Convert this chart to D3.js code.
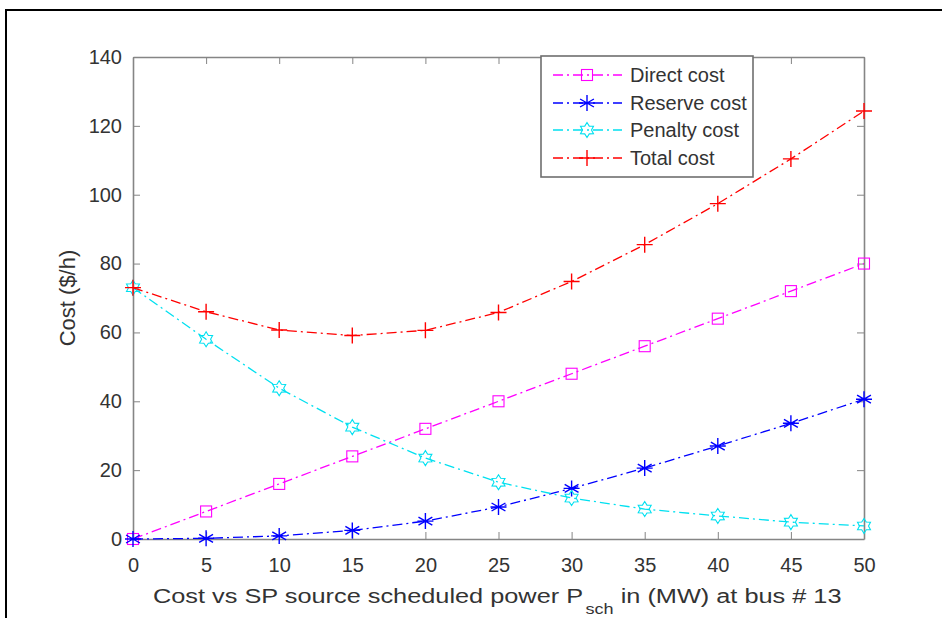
<!DOCTYPE html>
<html>
<head>
<meta charset="utf-8">
<script src="https://cdn.jsdelivr.net/npm/d3@7"></script>
<style>
  body { margin: 0; background: #fff; }
  svg { display: block; font-family: "Liberation Sans", Arial, Helvetica, sans-serif; }
</style>
</head>
<body>
<svg id="chart" width="942" height="618"></svg>
<script>
const power = [0, 5, 10, 15, 20, 25, 30, 35, 40, 45, 50];
const directCost = [0, 8, 16, 24, 32, 40, 48, 56, 64, 72, 80];
const reserveCost = [0, 0.2, 0.9, 2.5, 5.2, 9.3, 14.7, 20.6, 27.0, 33.6, 40.6];
const penaltyCost = [73, 58, 43.8, 32.5, 23.5, 16.5, 11.9, 8.7, 6.7, 4.9, 3.8];
const totalCost = [73, 66, 60.7, 59.1, 60.6, 65.8, 74.8, 85.5, 97.4, 110.4, 124.3];
const xTicks = [0, 5, 10, 15, 20, 25, 30, 35, 40, 45, 50];
const yTicks = [0, 20, 40, 60, 80, 100, 120, 140];
const seriesNames = ["Direct cost", "Reserve cost", "Penalty cost", "Total cost"];
const seriesColors = ["#ff00ff", "#0000ff", "#00e0f0", "#ff0000"];
const seriesMarkers = ["square", "asterisk", "hexagram", "plus"];
const seriesValues = [directCost, reserveCost, penaltyCost, totalCost];

const svg = d3.select("#chart");
const L = 133, R = 864, T = 57, B = 539;
const x = d3.scaleLinear().domain([0, 50]).range([L, R]);
const y = d3.scaleLinear().domain([0, 140]).range([B, T]);
const axisColor = "#858585";
const textColor = "#333";

// outer frame
svg.append("rect").attr("x", 6).attr("y", 10).attr("width", 980).attr("height", 700)
  .attr("fill", "none").attr("stroke", "#000").attr("stroke-width", 2);

// axes box with inward ticks
const tl = 7;
const gx = svg.append("g").attr("transform", `translate(0,${B})`)
  .call(d3.axisBottom(x).tickValues(xTicks).tickSizeInner(-tl).tickSizeOuter(0).tickPadding(19));
const gxt = svg.append("g").attr("transform", `translate(0,${T})`)
  .call(d3.axisTop(x).tickValues(xTicks).tickSizeInner(-tl).tickSizeOuter(0).tickFormat(""));
const gy = svg.append("g").attr("transform", `translate(${L},0)`)
  .call(d3.axisLeft(y).tickValues(yTicks).tickSizeInner(-tl).tickSizeOuter(0).tickPadding(11));
const gyr = svg.append("g").attr("transform", `translate(${R},0)`)
  .call(d3.axisRight(y).tickValues(yTicks).tickSizeInner(-tl).tickSizeOuter(0).tickFormat(""));
[gx, gxt, gy, gyr].forEach(g => {
  g.select(".domain").attr("stroke", axisColor).attr("stroke-width", 1.6);
  g.selectAll(".tick line").attr("stroke", axisColor).attr("stroke-width", 1);
  g.selectAll(".tick text").attr("fill", textColor).style("font-size", "20px");
});

// marker drawing
function marker(g, type, color, cx, cy) {
  const s = 5.5;
  if (type === "square") {
    g.append("rect").attr("x", cx - s).attr("y", cy - s).attr("width", 2 * s).attr("height", 2 * s)
      .attr("fill", "none").attr("stroke", color).attr("stroke-width", 1.1);
  } else if (type === "plus") {
    g.append("path").attr("d", `M${cx - 8},${cy}H${cx + 8}M${cx},${cy - 8}V${cy + 8}`)
      .attr("stroke", color).attr("stroke-width", 1.4).attr("fill", "none");
  } else if (type === "asterisk") {
    const r = 8; let d = `M${cx},${cy - r}V${cy + r}`;
    [30, 150].forEach(a => {
      const ra = a * Math.PI / 180;
      d += `M${cx - r * Math.cos(ra)},${cy - r * Math.sin(ra)}L${cx + r * Math.cos(ra)},${cy + r * Math.sin(ra)}`;
    });
    d += `M${cx - r},${cy}H${cx + r}`;
    g.append("path").attr("d", d).attr("stroke", color).attr("stroke-width", 1.4).attr("fill", "none");
  } else if (type === "hexagram") {
    const ro = 7.5, ri = 4.5; const pts = [];
    for (let i = 0; i < 12; i++) {
      const a = (i * 30 - 90) * Math.PI / 180;
      const r = i % 2 === 0 ? ro : ri;
      pts.push([cx + r * Math.cos(a), cy + r * Math.sin(a)]);
    }
    g.append("path").attr("d", "M" + pts.map(p => p.join(",")).join("L") + "Z")
      .attr("fill", "none").attr("stroke", color).attr("stroke-width", 1.1);
  }
}

const dash = "10,4,2,4";
const line = d3.line().x(d => x(d[0])).y(d => y(d[1]));
seriesValues.forEach((vals, i) => {
  const data = power.map((p, j) => [p, vals[j]]);
  const g = svg.append("g");
  g.append("path").datum(data).attr("d", line).attr("fill", "none")
    .attr("stroke", seriesColors[i]).attr("stroke-width", 1.3).attr("stroke-dasharray", dash);
  data.forEach(d => marker(g, seriesMarkers[i], seriesColors[i], x(d[0]), y(d[1])));
});

// legend
const lg = svg.append("g");
lg.append("rect").attr("x", 541).attr("y", 56).attr("width", 212).attr("height", 121)
  .attr("fill", "#fff").attr("stroke", "#6e6e6e").attr("stroke-width", 1.6);
const rowY = [75, 103, 130, 158];
seriesNames.forEach((n, i) => {
  const yy = rowY[i];
  lg.append("line").attr("x1", 553).attr("x2", 622).attr("y1", yy).attr("y2", yy)
    .attr("stroke", seriesColors[i]).attr("stroke-width", 1.3).attr("stroke-dasharray", dash);
  marker(lg, seriesMarkers[i], seriesColors[i], 587, yy);
  lg.append("text").attr("x", 630).attr("y", yy + 7).text(n)
    .attr("fill", textColor).style("font-size", "20px");
});

// axis labels
svg.append("text").attr("transform", `translate(75,${(T + B) / 2}) rotate(-90)`)
  .attr("text-anchor", "middle").attr("fill", textColor).style("font-size", "22px")
  .text("Cost ($/h)");

const xlg = svg.append("g");
const xl = xlg.append("text").attr("x", 0).attr("y", 0).attr("text-anchor", "start")
  .attr("fill", textColor).style("font-size", "21px");
xl.append("tspan").text("Cost vs SP source scheduled power P");
xl.append("tspan").attr("dx", 2).attr("dy", 11).style("font-size", "15px").text("sch");
xl.append("tspan").attr("dy", -11).text(" in (MW) at bus # 13");
// stretch horizontally so the label spans the same width as the reference
const target = 842 - 153;
const natural = xl.node().getBBox().width;
const sx = natural > 0 ? target / natural : 1;
xlg.attr("transform", `translate(153,603) scale(${sx},1)`);
</script>
</body>
</html>
